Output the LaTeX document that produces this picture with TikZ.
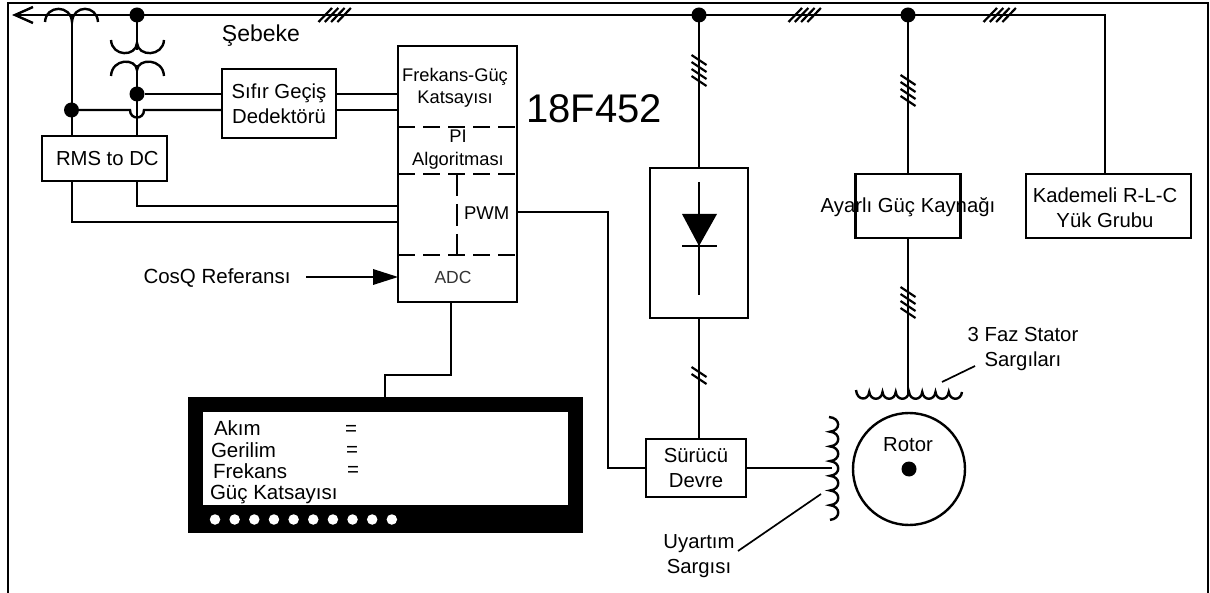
\documentclass[tikz,border=0pt]{standalone}
\usepackage{fontspec}
\setmainfont{Liberation Sans}
\usetikzlibrary{arrows.meta}
\tikzset{
 wire/.style={line width=2.4pt,line join=miter},
 thin wire/.style={line width=1.7pt},
 box/.style={draw,line width=2.4pt,rectangle,inner sep=0pt,outer sep=0pt,align=center,font=\fontsize{20.3}{25}\selectfont},
 label/.style={inner sep=0pt,outer sep=0pt,align=center,font=\fontsize{20.3}{25}\selectfont},
 chiptext/.style={inner sep=0pt,outer sep=0pt,align=center,font=\fontsize{18.3}{22}\selectfont},
 lcdtext/.style={inner sep=0pt,outer sep=0pt,anchor=west,font=\fontsize{20.5}{24}\selectfont},
 dot/.style={circle,fill=black,draw=none,minimum size=15pt,inner sep=0pt,outer sep=0pt},
 smalldot/.style={circle,fill=white,draw=none,minimum size=10.5pt,inner sep=0pt},
 divider/.style={line width=2.4pt,dash pattern=on 17pt off 8pt},
 tick/.style={line width=2.2pt}
}
\newcommand{\busticks}[2]{\foreach \k in {0,1,2,3}{\draw[tick] ({#1-16.5+\k*6.3},{#2+7}) -- ({#1-3+\k*6.3},{#2-7});}}
\newcommand{\wireticks}[4]{\foreach \k in {1,...,#3}{\draw[tick] ({#1-7.5},{#2+(\k-1)*#4-5}) -- ({#1+7.5},{#2+(\k-1)*#4+5});}}
\begin{document}
\begin{tikzpicture}[x=1pt,y=-1pt]
\useasboundingbox (0,0) rectangle (1210,593);
\fill[white] (0,0) rectangle (1210,593);
% frame
\draw[line width=2.5pt] (8,593) -- (8,3) -- (1208,3) -- (1208,593);
% boxes
\node[box,minimum width=114pt,minimum height=69pt] (zc) at (279,103.5) {Sıfır Geçiş\\Dedektörü};
\node[box,minimum width=125pt,minimum height=45pt] (rms) at (104.5,158.5) {\ RMS to DC};
\node[box,minimum width=119pt,minimum height=256pt] (chip) at (457.5,174) {};
\node[box,minimum width=98pt,minimum height=150pt] (rect) at (699,243) {};
\node[box,minimum width=105pt,minimum height=64pt] (sup) at (908,206) {};
\node[box,minimum width=165pt,minimum height=64pt] (load) at (1108.5,206) {};
\node[box,minimum width=100pt,minimum height=58pt] (drv) at (696,468) {Sürücü\\Devre};
\node[draw,line width=2.4pt,circle,minimum size=112pt,inner sep=0pt,outer sep=0pt] (rotor) at (909,469) {};
\node[dot] (shaft) at (909,469) {};
% labels
\node[label] (sup text) at (908,207) {Ayarlı Güç Kaynağı};
\node[label] (load text) at (1105,207.5) {Kademeli R-L-C\\Yük Grubu};
\node[label,font=\fontsize{23}{26}\selectfont] (seb) at (261,36) {Şebeke};
\node[inner sep=0pt,font=\fontsize{40}{44}\selectfont] (ic) at (594,109) {18F452};
\node[chiptext] (fg) at (455,87.5) {Frekans-Güç\\Katsayısı};
\node[chiptext] (pi) at (458,150) {PI\\[1pt]Algoritması};
\node[label,anchor=west,font=\fontsize{18.5}{22}\selectfont] (pwm) at (464,213) {PWM};
\node[chiptext,text=black!80,font=\fontsize{17.5}{20}\selectfont] (adc) at (453,277) {ADC};
\node[label,font=\fontsize{20.5}{24}\selectfont] (cos) at (217,278) {CosQ Referansı};
\node[label] (rotortext) at (908,445) {Rotor};
\node[label] (uy) at (699,556.5) {Uyartım\\Sargısı};
\node[label] (st) at (1023,349.5) {3 Faz Stator\\Sargıları};
% junctions
\coordinate (tip) at (15,15);
\coordinate (busEnd) at (1105,15);
\coordinate (ct) at (72,15);
\node[dot] (j1) at (137,15) {};
\node[dot] (j2) at (699,15) {};
\node[dot] (j3) at (908,15) {};
\node[dot] (j4) at (71.5,110) {};
\node[dot] (j5) at (137,94) {};
% bus
\draw[wire] (tip) -- (busEnd) -- (load.north -| busEnd);
\draw[wire] (33,7) -- (tip) -- (33,23);
\busticks{335}{15}\busticks{805}{15}\busticks{1000}{15}
% current transformer
\draw[wire] (45,22) .. controls (46,4.5) and (71,4.5) .. (72,22) .. controls (73,4.5) and (97,4.5) .. (98,22);
\draw[wire] (ct) -- (rms.north -| ct);
% voltage transformer
\draw[wire] (j1) -- (137,50);
\draw[wire] (111,40) .. controls (112,57) and (136,57) .. (137,43) .. controls (138,57) and (163,57) .. (164,40);
\draw[wire] (111,76) .. controls (112,58) and (136,58) .. (137,70) .. controls (138,58) and (163,58) .. (164,76);
\draw[wire] (137,65) -- (rms.north -| j1);
% signals
\draw[wire] (j5) -- (zc.west |- j5);
\draw[wire] (j4) -- (130,110) .. controls (130,120) and (144,120) .. (144,110) -- (zc.west |- j4);
\draw[wire] (zc.east |- j5) -- (chip.west |- j5);
\draw[wire] (zc.east |- j4) -- (chip.west |- j4);
\draw[wire] (rms.south -| j5) |- (chip.west |- 0,206);
\draw[wire] (rms.south -| ct) |- (chip.west |- 0,222);
% chip dividers
\draw[divider] (chip.west |- 0,127) -- (chip.east |- 0,127);
\draw[divider] (chip.west |- 0,174) -- (chip.east |- 0,174);
\draw[divider] (chip.west |- 0,255) -- (chip.east |- 0,255);
\draw[divider,dash pattern=on 22pt off 8pt] (457,174) -- (457,255);
% cos reference
\draw[wire] (306,277) -- (380,277);
\fill (chip.west |- 0,277) -- (373,269) -- (373,285) -- cycle;
% PWM to driver
\draw[wire] (chip.east |- 0,212) -- (608,212) |- (drv.west);
% LCD
\coordinate (adcOut) at (451,302);
\node[draw=black,fill=white,line width=15pt,rectangle,minimum width=380pt,minimum height=108pt,inner sep=0pt,outer sep=7.5pt] (lcd) at (385.5,458.5) {};
\fill (188,505) rectangle (583,533);
\draw[wire] (adcOut) -- (451,375) -- (385,375) -- (385,397);
\foreach \i in {0,...,9}{\node[smalldot] (led\i) at ({215+\i*19.65},519.5) {};}
\node[lcdtext] (l1) at (214,428) {Akım};
\node[lcdtext] (l2) at (211,450.5) {Gerilim};
\node[lcdtext] (l3) at (213,471.5) {Frekans};
\node[lcdtext] (l4) at (210,494.5) {Güç Katsayısı};
\node[lcdtext] (e1) at (345,430) {=};
\node[lcdtext] (e2) at (346,451) {=};
\node[lcdtext] (e3) at (347,471) {=};
% rectifier
\draw[wire] (j2) -- (rect.north);
\wireticks{699}{60}{4}{7}
\coordinate (diodeTop) at (699,182);
\coordinate (diodeBot) at (699,295);
\draw[wire] (diodeTop) -- (diodeBot);
\fill (682,214) -- (717,214) -- (699,246) -- cycle;
\draw[wire] (682,246) -- (717,246);
\draw[wire] (rect.south) -- (drv.north -| rect.south);
\wireticks{699}{372}{2}{7}
% supply
\draw[wire] (j3) -- (sup.north);
\wireticks{908}{80}{4}{7}
\coordinate (statorTap) at (908,396);
\draw[wire] (sup.south) -- (statorTap);
\wireticks{908}{292}{4}{7}
% stator coil
\draw[wire] (856,390) foreach \k in {0,...,7}{ .. controls ({856+\k*13.25+1},401) and ({856+\k*13.25+12.25},401) .. ({856+\k*13.25+13.25},392)};
% field coil
\coordinate (fieldTap) at (832,468);
\draw[wire] (drv.east |- fieldTap) -- (fieldTap);
\draw[wire] (829,417) foreach \k in {0,...,6}{ .. controls (841,{417+\k*14.7+1}) and (841,{417+\k*14.7+13.7}) .. (830,{417+\k*14.7+14.7})};
% leader lines
\draw[thin wire] (738,551) -- (821,494);
\draw[thin wire] (942,382) -- (975,366);
\end{tikzpicture}
\end{document}
